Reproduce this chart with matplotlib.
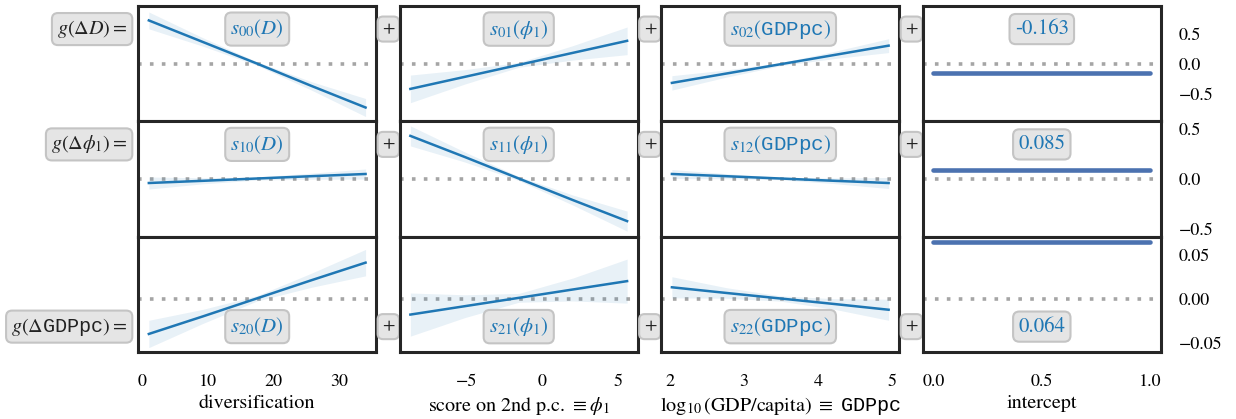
import numpy as np
import matplotlib
matplotlib.use("Agg")
import matplotlib.pyplot as plt

plt.rcParams['font.family'] = ['STIXGeneral', 'DejaVu Serif']
plt.rcParams['mathtext.fontset'] = 'custom'
plt.rcParams['mathtext.rm'] = 'STIXGeneral'
plt.rcParams['mathtext.it'] = 'STIXGeneral:italic'
plt.rcParams['mathtext.bf'] = 'STIXGeneral:bold'
plt.rcParams['mathtext.tt'] = 'Liberation Mono'
plt.rcParams['mathtext.fallback'] = 'stix'

# x sample positions per column (covariate values)
x_div = [1.0, 9.25, 17.5, 25.75, 34.0]
x_phi = [-8.7, -5.12, -1.55, 2.02, 5.6]
x_gdp = [2.02, 2.755, 3.49, 4.225, 4.96]
x_cols = [x_div, x_phi, x_gdp]

# fitted smooth terms s_ij (rows: response, cols: covariate)
fit = [
    [[0.72, 0.36, 0.0, -0.37, -0.73],
     [-0.42, -0.22, -0.02, 0.18, 0.38],
     [-0.32, -0.165, -0.01, 0.145, 0.30]],
    [[-0.04, -0.018, 0.005, 0.028, 0.05],
     [0.43, 0.22, 0.005, -0.21, -0.42],
     [0.05, 0.028, 0.005, -0.018, -0.04]],
    [[-0.040, -0.020, 0.0005, 0.021, 0.041],
     [-0.018, -0.0085, 0.001, 0.0105, 0.020],
     [0.013, 0.0066, 0.0003, -0.006, -0.0125]],
]
# half width of the confidence band
band = [
    [[0.14, 0.07, 0.03, 0.07, 0.15],
     [0.23, 0.12, 0.04, 0.12, 0.23],
     [0.12, 0.06, 0.025, 0.06, 0.115]],
    [[0.06, 0.03, 0.015, 0.03, 0.05],
     [0.10, 0.05, 0.02, 0.05, 0.10],
     [0.045, 0.025, 0.012, 0.028, 0.055]],
    [[0.0155, 0.008, 0.003, 0.008, 0.015],
     [0.0245, 0.013, 0.005, 0.013, 0.025],
     [0.012, 0.006, 0.003, 0.006, 0.012]],
]
intercepts = [-0.163, 0.085, 0.064]
intercept_labels = ['-0.163', '0.085', '0.064']

row_labels = [r'$g(\Delta D) =$', r'$g(\Delta\phi_1) =$', r'$g(\Delta\mathtt{GDPpc}) =$']
cov_names = [r'$D$', r'$\phi_1$', r'$\mathtt{GDPpc}$']
xlabels = ['diversification', r'score on 2nd p.c. $\equiv \phi_1$',
           r'$\log_{10}$(GDP/capita) $\equiv$ $\mathtt{GDPpc}$', 'intercept']
xticks = [[0, 10, 20, 30], [-5, 0, 5], [2, 3, 4, 5], [0.0, 0.5, 1.0]]
xticklabels = [['0', '10', '20', '30'], ['\u22125', '0', '5'], ['2', '3', '4', '5'],
               ['0.0', '0.5', '1.0']]
ylims = [(-0.96, 0.96), (-0.575, 0.575), (-0.0605, 0.0705)]
yticks = [[-0.5, 0.0, 0.5], [-0.5, 0.0, 0.5], [-0.05, 0.0, 0.05]]
yticklabels = [['\u22120.5', '0.0', '0.5'], ['\u22120.5', '0.0', '0.5'],
               ['\u22120.05', '0.00', '0.05']]
label_y = [0.8, 0.8, 0.22]

line_c = '#1f77b4'
icpt_c = '#4c72b0'
box = dict(boxstyle='round,pad=0.25,rounding_size=0.3', fc='#e5e5e5', ec='#c4c4c4', lw=1.5)

fig = plt.figure(figsize=(12.36, 4.19), dpi=100)
gs = fig.add_gridspec(3, 4, left=138 / 1236, right=1161 / 1236,
                      bottom=1 - 352 / 419, top=1 - 6 / 419, wspace=0.097, hspace=0)

for i in range(3):
    for j in range(4):
        ax = fig.add_subplot(gs[i, j])
        ax.axhline(0, color='#a5a5a5', lw=2.6, ls=(0, (1, 2.3)), zorder=1)
        if j < 3:
            x = np.array(x_cols[j])
            f = np.array(fit[i][j])
            w = np.array(band[i][j])
            ax.fill_between(x, f - w, f + w, color=line_c, alpha=0.1, lw=0, zorder=2)
            ax.plot(x, f, color=line_c, lw=1.8, zorder=3)
            txt = r'$s_{%d%d}($' % (i, j) + cov_names[j] + r'$)$'
            ax.text(0.5, label_y[i], txt, transform=ax.transAxes, ha='center', va='center',
                    fontsize=15, color=line_c, bbox=box, zorder=5)
            ax.text(1.05, label_y[i], '+', transform=ax.transAxes, ha='center', va='center',
                    fontsize=13, color='#222222', bbox=box, zorder=5, clip_on=False)
        else:
            ax.plot([0, 1], [intercepts[i], intercepts[i]], color=icpt_c, lw=3.3,
                    solid_capstyle='round', zorder=3)
            ax.text(0.5, label_y[i], intercept_labels[i], transform=ax.transAxes,
                    ha='center', va='center', fontsize=15, color=line_c, bbox=box, zorder=5)
        if j == 0:
            ax.text(-0.045, label_y[i], row_labels[i], transform=ax.transAxes,
                    ha='right', va='center', fontsize=14.5, color='#222222', bbox=box)
        ax.set_ylim(*ylims[i])
        if j == 3:
            ax.yaxis.tick_right()
            ax.set_yticks(yticks[i])
            ax.set_yticklabels(yticklabels[i])
            ax.tick_params(axis='y', length=0, pad=13, labelsize=13)
        else:
            ax.set_yticks([])
        if i == 2:
            ax.set_xticks(xticks[j])
            ax.set_xticklabels(xticklabels[j])
            ax.tick_params(axis='x', length=0, pad=15.5, labelsize=13)
            ax.set_xlabel(xlabels[j], fontsize=14.5, labelpad=4)
        else:
            ax.set_xticks([])
            ax.margins(x=0.05)
        for s in ax.spines.values():
            s.set_linewidth(2.2)
            s.set_color('#262626')

fig.savefig('out.png', dpi=100)
